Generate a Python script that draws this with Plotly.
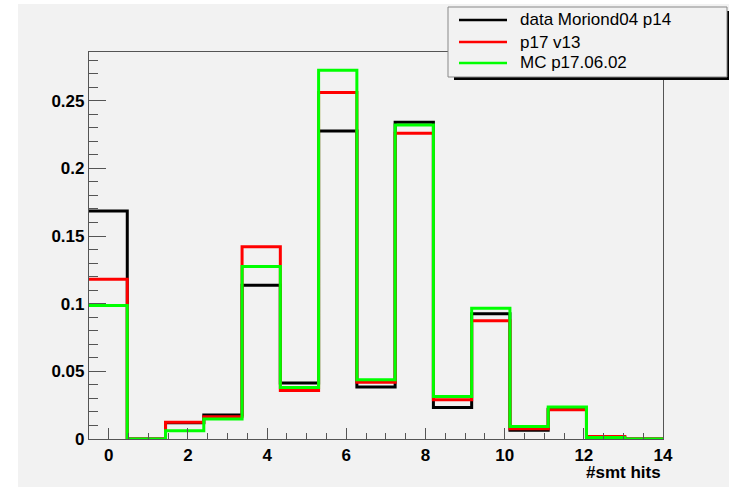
import plotly.graph_objects as go

# Histogram binning: 15 equal bins between -0.5 and 14
n_bins = 15
x_min, x_max = -0.5, 14.0

series_names = ["data Moriond04 p14", "p17 v13", "MC p17.06.02"]
series_colors = ["#000000", "#ff0000", "#00ff00"]

data_moriond = [0.1685, 0.0, 0.0120, 0.0177, 0.1136, 0.0413, 0.2277, 0.0384,
                0.2340, 0.0233, 0.0925, 0.0064, 0.0220, 0.0015, 0.0]
p17_v13 = [0.1180, 0.0, 0.0123, 0.0165, 0.1420, 0.0359, 0.2560, 0.0420,
           0.2260, 0.0290, 0.0873, 0.0075, 0.0216, 0.0019, 0.0]
mc_p17 = [0.0986, 0.0, 0.0061, 0.0148, 0.1274, 0.0380, 0.2725, 0.0438,
          0.2320, 0.0315, 0.0967, 0.0093, 0.0236, 0.0012, 0.0]

y_tick_vals = [0, 0.05, 0.1, 0.15, 0.2, 0.25]
y_tick_text = ["0", "0.05", "0.1", "0.15", "0.2", "0.25"]
x_tick_vals = [0, 2, 4, 6, 8, 10, 12, 14]
x_tick_text = ["0", "2", "4", "6", "8", "10", "12", "14"]
x_title = "#smt hits"

W, H = 729, 487
ML, MR, MT, MB = 89, 66, 52, 48
PW, PH = W - ML - MR, H - MT - MB

width = (x_max - x_min) / n_bins
edges = [x_min + i * width for i in range(n_bins + 1)]

FONT = "Liberation Sans, Arial, Helvetica, sans-serif"
AXC = "#555555"


def px(p):
    return (p - ML) / PW


def py(p):
    return (H - MB - p) / PH


fig = go.Figure()
for name, color, vals in zip(series_names, series_colors,
                             [data_moriond, p17_v13, mc_p17]):
    fig.add_trace(go.Scatter(
        x=edges, y=list(vals) + [vals[-1]], mode="lines",
        line=dict(color=color, width=3, shape="hv"),
        name=name, showlegend=False, hoverinfo="skip"))

shapes = []
annotations = []

# white border around the grey canvas
shapes.append(dict(type="rect", xref="paper", yref="paper", x0=px(0), x1=px(18),
                   y0=py(H), y1=py(0), fillcolor="white", line=dict(width=0), layer="above"))
shapes.append(dict(type="rect", xref="paper", yref="paper", x0=px(0), x1=px(W),
                   y0=py(4), y1=py(0), fillcolor="white", line=dict(width=0), layer="above"))

# legend box with drop shadow
lx0, lx1, ly0, ly1 = 448, 727, 7, 77
shapes.append(dict(type="rect", xref="paper", yref="paper", x0=px(lx0 + 6), x1=px(W + 2),
                   y0=py(ly1 + 3), y1=py(ly0 + 4), fillcolor="black", line=dict(width=0), layer="above"))
shapes.append(dict(type="rect", xref="paper", yref="paper", x0=px(lx0), x1=px(lx1),
                   y0=py(ly1), y1=py(ly0), fillcolor="#f2f2f2",
                   line=dict(color="#888888", width=1), layer="above"))
rows = [20, 42, 63]
for name, color, ry in zip(series_names, series_colors, rows):
    shapes.append(dict(type="line", xref="paper", yref="paper", x0=px(459), x1=px(507),
                       y0=py(ry), y1=py(ry), line=dict(color=color, width=2.5), layer="above"))
    annotations.append(dict(text=name, xref="paper", yref="paper", x=px(518), y=py(ry),
                            xanchor="left", yanchor="middle", showarrow=False,
                            font=dict(family=FONT, size=17, color="black")))

annotations.append(dict(text=x_title, xref="paper", yref="paper", x=px(663), y=py(472),
                        xanchor="right", yanchor="middle", showarrow=False,
                        font=dict(family=FONT, size=17, color="black", weight="bold")))

fig.update_layout(
    width=W, height=H,
    margin=dict(l=ML, r=MR, t=MT, b=MB, pad=0),
    paper_bgcolor="#f2f2f2", plot_bgcolor="#f2f2f2",
    font=dict(family=FONT, size=17, color="black"),
    shapes=shapes, annotations=annotations,
    xaxis=dict(range=[x_min, x_max], showgrid=False, zeroline=False,
               showline=True, linecolor=AXC, linewidth=1.2, mirror=True,
               ticks="inside", ticklen=11, tickwidth=1, tickcolor=AXC,
               tickvals=x_tick_vals, ticktext=x_tick_text,
               tickfont=dict(family=FONT, size=17, weight="bold"),
               minor=dict(dtick=0.5, tick0=0, ticks="inside", ticklen=6,
                          tickcolor=AXC, tickwidth=1)),
    yaxis=dict(range=[0, 0.286], showgrid=False, zeroline=False,
               showline=True, linecolor=AXC, linewidth=1.2, mirror=True,
               ticks="inside", ticklen=17, tickwidth=1, tickcolor=AXC,
               tickvals=y_tick_vals, ticktext=y_tick_text,
               tickfont=dict(family=FONT, size=17, weight="bold"),
               minor=dict(dtick=0.01, tick0=0, ticks="inside", ticklen=9,
                          tickcolor=AXC, tickwidth=1)),
)

fig.write_html("out.html")
